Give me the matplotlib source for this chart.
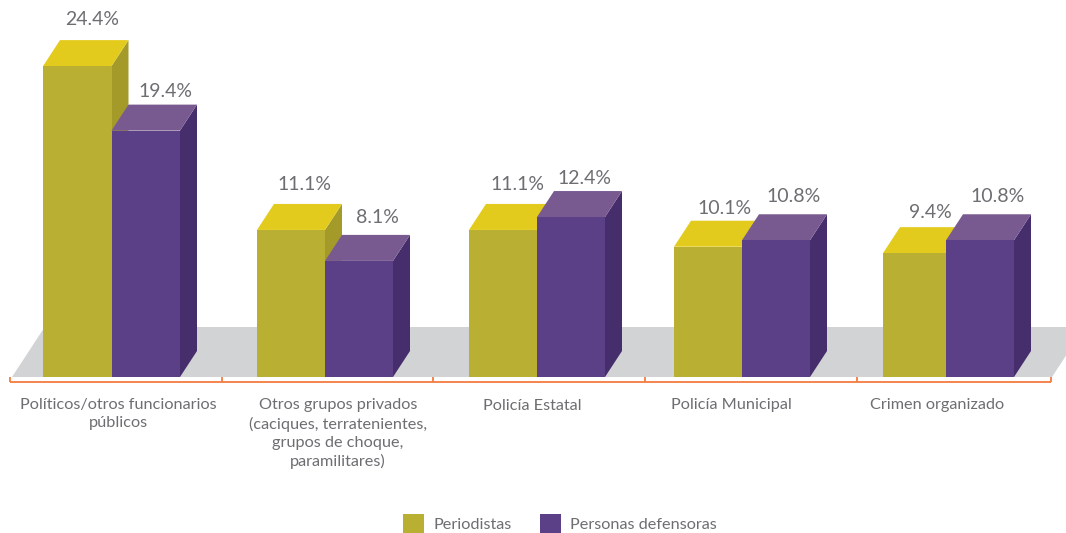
"""Barras 3D: agresores, periodistas vs personas defensoras"""
import matplotlib
matplotlib.use("Agg")
import matplotlib.pyplot as plt
from matplotlib.patches import Polygon, Patch

categorias = ["Políticos/otros funcionarios\npúblicos",
              "Otros grupos privados\n(caciques, terratenientes,\ngrupos de choque,\nparamilitares)",
              "Policía Estatal", "Policía Municipal", "Crimen organizado"]
etiq_per = ["24.4%", "11.1%", "11.1%", "10.1%", "9.4%"]
etiq_def = ["19.4%", "8.1%", "12.4%", "10.8%", "10.8%"]
# alturas tal como se dibujan en la imagen (no siempre coinciden con la etiqueta)
periodistas = [24.1, 11.4, 11.4, 10.1, 9.6]
defensoras  = [19.1, 9.0, 12.4, 10.6, 10.6]

W, H = 1066, 533
BASE = 377            # y (px) de la base de las barras
PX = 12.9             # px por punto porcentual
DX, DY = 17, 26       # profundidad

# bordes de las barras en px
x_ini = [43, 257, 469, 674, 883]
x_mid = [111.5, 325, 537, 742, 946]
x_fin = [180, 393, 605, 810, 1014]
cortes = [10, 222, 433, 645, 857, 1051]
x_cat = [118, 338, 532, 731, 937]
# desplazamiento de etiquetas respecto al centro superior de la barra
off_per = [(15, 47), (13, 45), (14, 45), (17, 38), (15.5, 41)]
off_def = [(19.5, 39), (18, 43), (13, 39), (18, 44), (18, 44)]

C_PER, C_PER_TOP, C_PER_SIDE = "#b9af32", "#e3cb1d", "#a39a2a"
C_DEF, C_DEF_TOP, C_DEF_SIDE = "#5b3f87", "#785a91", "#462d6b"
C_FLOOR, C_LINE, C_TXT = "#d1d3d4", "#f47b40", "#6d6e71"

plt.rcParams["font.family"] = ["Lato", "DejaVu Sans"]

fig = plt.figure(figsize=(W/100, H/100), dpi=100, facecolor="white")
ax = fig.add_axes([0, 0, 1, 1])
ax.set_xlim(0, W); ax.set_ylim((BASE-H)/PX, BASE/PX)
ax.axis("off")

dy = DY/PX

def py(p):
    return (BASE-p)/PX

# piso
ax.add_patch(Polygon([(12, 0), (1052, 0), (1052+DX*50/DY, 50/PX), (12+DX*50/DY, 50/PX)],
                     closed=True, fc=C_FLOOR, ec="none", zorder=1))

def barra(x0, x1, h, front, top, side, z, etiqueta, off):
    ax.add_patch(Polygon([(x1, 0), (x1+DX, dy), (x1+DX, h+dy), (x1, h)], closed=True,
                         fc=side, ec="none", zorder=z))
    ax.add_patch(Polygon([(x0, h), (x1, h), (x1+DX, h+dy), (x0+DX, h+dy)], closed=True,
                         fc=top, ec="none", zorder=z))
    ax.bar(x0, h, x1-x0, align="edge", color=front, lw=0, zorder=z+0.5)
    ax.annotate(etiqueta, ((x0+x1)/2, h), xytext=off, textcoords="offset pixels",
                ha="center", va="center", fontsize=14, color=C_TXT, zorder=9)

for i in range(len(categorias)):
    barra(x_ini[i], x_mid[i], periodistas[i], C_PER, C_PER_TOP, C_PER_SIDE, 3, etiq_per[i], off_per[i])
    barra(x_mid[i], x_fin[i], defensoras[i], C_DEF, C_DEF_TOP, C_DEF_SIDE, 4, etiq_def[i], off_def[i])
    ax.text(x_cat[i], py(398.5), categorias[i], ha="center", va="top", fontsize=11.7,
            color=C_TXT, linespacing=1.36)

# corchete naranja bajo el eje
ax.plot([cortes[0], cortes[-1]], [py(381.5)]*2, color=C_LINE, lw=1.3, solid_capstyle="butt")
for c in cortes:
    ax.plot([c, c], [py(377), py(382)], color=C_LINE, lw=1.3, solid_capstyle="butt")

hs = [Patch(fc=C_PER, ec="none", label="Periodistas"), Patch(fc=C_DEF, ec="none", label="Personas defensoras")]
leg = ax.legend(handles=hs, loc="center", bbox_to_anchor=(560/W, 1-523.5/H), ncols=2, frameon=False,
                fontsize=11.7, handlelength=1.3, handleheight=1.5, handletextpad=0.55,
                columnspacing=1.75, borderpad=0, borderaxespad=0)
for t in leg.get_texts():
    t.set_color(C_TXT)

plt.savefig("out.png", dpi=100, facecolor="white")
